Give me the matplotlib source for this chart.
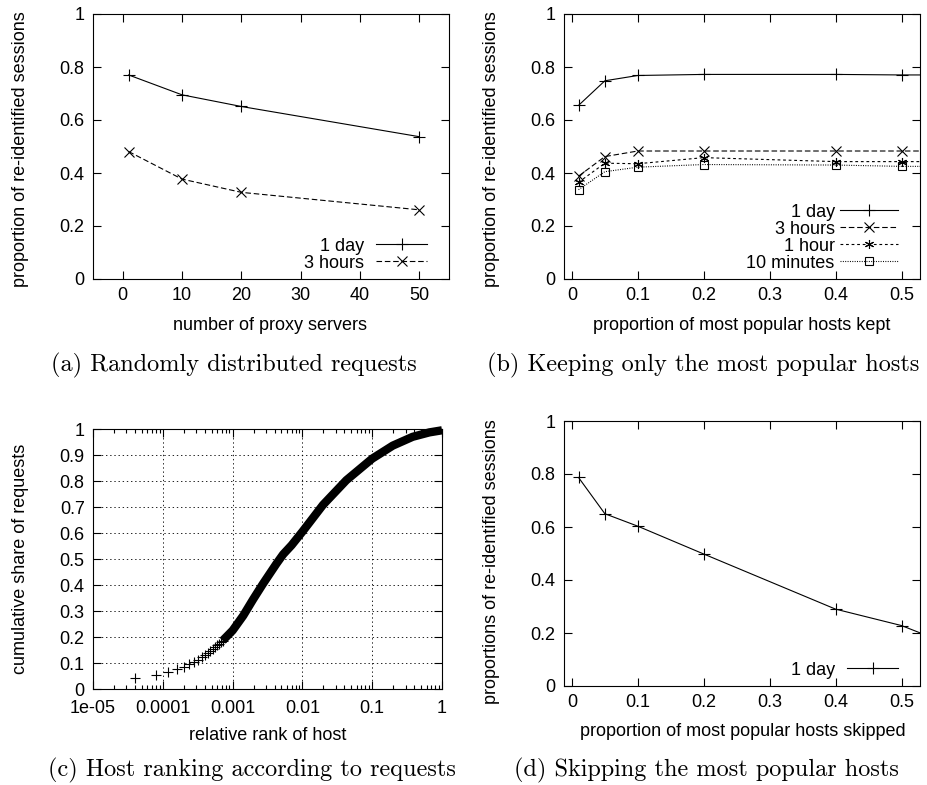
import matplotlib
matplotlib.use("Agg")
import matplotlib.pyplot as plt
import numpy as np
from matplotlib.ticker import FixedLocator, LogLocator, NullFormatter

plt.rcParams['font.family'] = ['Liberation Sans', 'DejaVu Sans']
plt.rcParams['lines.scale_dashes'] = False

# ---------------- data ----------------
# (a) Randomly distributed requests
a_x = [1, 10, 20, 50]
a_1day = [0.770, 0.695, 0.651, 0.537]
a_3hours = [0.481, 0.377, 0.327, 0.261]

# (b) Keeping only the most popular hosts
b_x = [0.01, 0.05, 0.1, 0.2, 0.4, 0.5, 0.6]
b_1day = [0.655, 0.748, 0.768, 0.772, 0.772, 0.770, 0.770]
b_3hours = [0.388, 0.462, 0.483, 0.483, 0.483, 0.483, 0.483]
b_1hour = [0.365, 0.437, 0.435, 0.458, 0.443, 0.443, 0.443]
b_10min = [0.337, 0.405, 0.422, 0.432, 0.430, 0.425, 0.425]

# (c) Host ranking according to requests
c_sparse_rank = [4.0e-5, 8.0e-5, 1.2e-4, 1.6e-4, 2.0e-4, 2.4e-4, 2.8e-4, 3.2e-4,
                 3.6e-4, 4.0e-4, 4.4e-4, 4.8e-4, 5.2e-4, 5.6e-4, 6.0e-4, 6.4e-4,
                 6.8e-4, 7.2e-4]
c_sparse_share = [0.042, 0.053, 0.064, 0.076, 0.086, 0.095, 0.104, 0.113,
                  0.122, 0.131, 0.139, 0.147, 0.155, 0.162, 0.168, 0.174,
                  0.180, 0.186]
c_dense_rank = [7.2e-4, 1.0e-3, 1.42e-3, 1.97e-3, 2.73e-3, 4.25e-3, 5.3e-3,
                7.0e-3, 1.0e-2, 1.97e-2, 4.26e-2, 0.1, 0.197, 0.38, 0.66, 1.0]
c_dense_share = [0.186, 0.225, 0.282, 0.345, 0.405, 0.482, 0.518,
                 0.553, 0.605, 0.708, 0.803, 0.886, 0.936, 0.970, 0.987, 0.995]

# (d) Skipping the most popular hosts
d_x = [0.01, 0.05, 0.1, 0.2, 0.4, 0.5, 0.6]
d_1day = [0.787, 0.650, 0.603, 0.498, 0.290, 0.228, 0.130]

# tick labels
ticks_01 = [0, 0.2, 0.4, 0.6, 0.8, 1]
ticks_01_lab = ['0', '0.2', '0.4', '0.6', '0.8', '1']
ticks_prop = [0, 0.1, 0.2, 0.3, 0.4, 0.5]
ticks_prop_lab = ['0', '0.1', '0.2', '0.3', '0.4', '0.5']
ticks_a = [0, 10, 20, 30, 40, 50]
ticks_c_y = [0, 0.1, 0.2, 0.3, 0.4, 0.5, 0.6, 0.7, 0.8, 0.9, 1]
ticks_c_y_lab = ['0', '0.1', '0.2', '0.3', '0.4', '0.5', '0.6', '0.7', '0.8', '0.9', '1']
ticks_c_x = [1e-5, 1e-4, 1e-3, 1e-2, 1e-1, 1]
ticks_c_x_lab = ['1e-05', '0.0001', '0.001', '0.01', '0.1', '1']

captions = ['(a) Randomly distributed requests',
            '(b) Keeping only the most popular hosts',
            '(c) Host ranking according to requests',
            '(d) Skipping the most popular hosts']

# ---------------- figure ----------------
W, H = 927, 785
fig = plt.figure(figsize=(W / 100, H / 100), dpi=100)

def px_axes(l, r, t, b):
    return fig.add_axes([l / W, 1 - b / H, (r - l) / W, (b - t) / H])

FS = 13
LW = 0.8

def style(ax):
    for s in ax.spines.values():
        s.set_linewidth(LW)
    ax.tick_params(which='major', direction='in', length=6, width=LW,
                   top=True, right=True, labelsize=FS, pad=6)
    ax.tick_params(which='minor', direction='in', length=3, width=LW,
                   top=True, right=True)

mk = dict(color='black', lw=LW, markersize=8, markeredgewidth=LW)

def legend(ax, hl, tp):
    ax.legend(loc='lower right', frameon=False, markerfirst=False, fontsize=FS,
              handlelength=hl, handletextpad=tp, labelspacing=0.0,
              numpoints=1, bbox_to_anchor=(0.958, 0.0), borderaxespad=0.0,
              borderpad=0.4)

# (a)
ax = px_axes(93, 449, 14, 279)
ax.plot(a_x, a_1day, marker='+', ls='-', label='1 day', **mk)
ax.plot(a_x, a_3hours, marker='x', ls=(0, (4, 2)), label='3 hours',
        **{**mk, 'markersize': 6.5})
ax.set_xlim(-5, 55)
ax.set_ylim(0, 1)
ax.set_xticks(ticks_a)
ax.set_yticks(ticks_01)
ax.set_yticklabels(ticks_01_lab)
style(ax)
ax.set_xlabel('number of proxy servers', fontsize=FS)
ax.set_ylabel('proportion of re-identified sessions', fontsize=FS)
ax.xaxis.set_label_coords(0.497, -0.174)
ax.yaxis.set_label_coords(-0.205, 0.49)
ax.xaxis.label.set_va('center')
ax.yaxis.label.set_va('center')
legend(ax, 2.8, 0.67)

# (b)
ax = px_axes(564, 920, 14, 279)
ax.plot(b_x, b_1day, marker='+', ls='-', label='1 day', **mk)
ax.plot(b_x, b_3hours, marker='x', ls=(0, (4, 2)), label='3 hours',
        **{**mk, 'markersize': 6.5})
ax.plot(b_x, b_1hour, marker=(6, 2, 0), ls=(0, (2, 2)), label='1 hour',
        **{**mk, 'markersize': 6.5})
ax.plot(b_x, b_10min, marker='s', ls=(0, (0.7, 1.0)), label='10 minutes',
        markerfacecolor='none', **{**mk, 'markersize': 6})
ax.set_xlim(-0.012, 0.528)
ax.set_ylim(0, 1)
ax.set_xticks(ticks_prop)
ax.set_xticklabels(ticks_prop_lab)
ax.set_yticks(ticks_01)
ax.set_yticklabels(ticks_01_lab)
style(ax)
ax.set_xlabel('proportion of most popular hosts kept', fontsize=FS)
ax.set_ylabel('proportion of re-identified sessions', fontsize=FS)
ax.xaxis.set_label_coords(0.5, -0.174)
ax.yaxis.set_label_coords(-0.205, 0.49)
ax.xaxis.label.set_va('center')
ax.yaxis.label.set_va('center')
legend(ax, 3.2, 0.3)

# (c)
ax = px_axes(93, 442, 429, 689)
ax.set_xscale('log')
ax.plot(c_dense_rank, c_dense_share, color='black', lw=6,
        solid_capstyle='butt', solid_joinstyle='round', clip_on=False)
ax.plot(c_sparse_rank, c_sparse_share, ls='none', marker='+', color='black',
        markersize=7, markeredgewidth=LW)
ax.set_xlim(1e-5, 1)
ax.set_ylim(0, 1)
ax.xaxis.set_major_locator(FixedLocator(ticks_c_x))
ax.set_xticklabels(ticks_c_x_lab)
ax.xaxis.set_minor_locator(LogLocator(base=10, subs=np.arange(2, 10)))
ax.xaxis.set_minor_formatter(NullFormatter())
ax.set_yticks(ticks_c_y)
ax.set_yticklabels(ticks_c_y_lab)
ax.grid(True, which='major', color='black', ls=(0, (1, 2)), lw=0.6)
style(ax)
ax.tick_params(axis='x', which='major', pad=8)
ax.set_xlabel('relative rank of host', fontsize=FS)
ax.set_ylabel('cumulative share of requests', fontsize=FS)
ax.xaxis.set_label_coords(0.5, -0.177)
ax.yaxis.set_label_coords(-0.209, 0.5)
ax.xaxis.label.set_va('center')
ax.yaxis.label.set_va('center')

# (d)
ax = px_axes(564, 920, 421, 686)
ax.plot(d_x, d_1day, marker='+', ls='-', label='1 day', **mk)
ax.set_xlim(-0.012, 0.528)
ax.set_ylim(0, 1)
ax.set_xticks(ticks_prop)
ax.set_xticklabels(ticks_prop_lab)
ax.set_yticks(ticks_01)
ax.set_yticklabels(ticks_01_lab)
style(ax)
ax.set_xlabel('proportion of most popular hosts skipped', fontsize=FS)
ax.set_ylabel('proportions of re-identified sessions', fontsize=FS)
ax.xaxis.set_label_coords(0.503, -0.172)
ax.yaxis.set_label_coords(-0.205, 0.47)
ax.xaxis.label.set_va('center')
ax.yaxis.label.set_va('center')
legend(ax, 2.8, 0.7)

# captions
cap_pos = [(234, 365), (703, 365), (252, 770), (706, 770)]
for (cx, cy), txt in zip(cap_pos, captions):
    fig.text(cx / W, 1 - cy / H, txt, ha='center', va='center',
             fontsize=17.5, family=['cmr10', 'DejaVu Serif'])

fig.savefig('out.png', dpi=100)
